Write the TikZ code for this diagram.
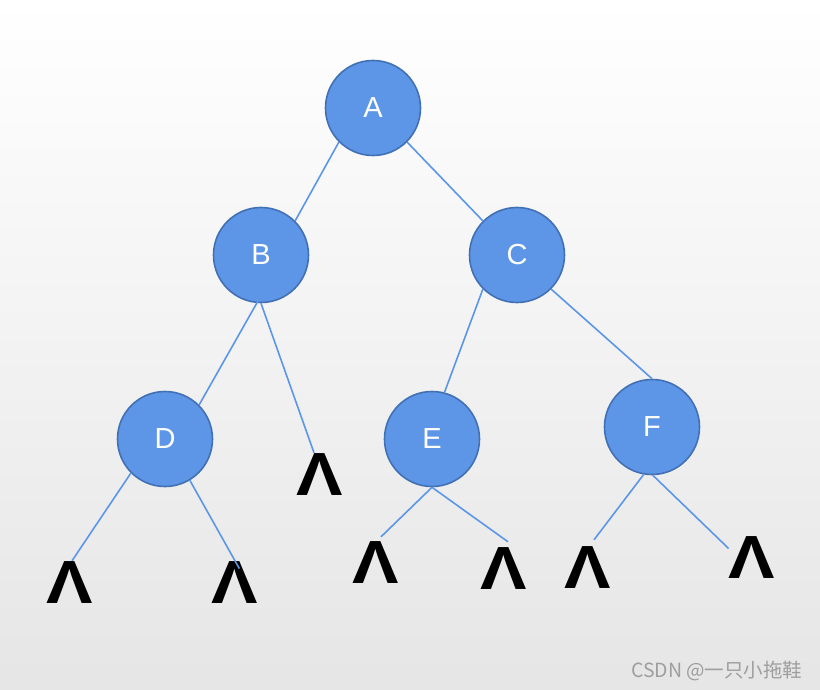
\documentclass[tikz,border=0pt]{standalone}
\usepackage{fontspec}
\usepackage{graphicx}
\setmainfont{Liberation Sans}
\newfontfamily\cjk{Noto Sans CJK SC}
\usetikzlibrary{positioning}

\definecolor{nodefill}{RGB}{93,150,230}
\definecolor{nodeline}{RGB}{66,112,180}
\definecolor{edgeline}{RGB}{92,150,232}

\newcommand{\nilsym}{\scalebox{1.2}[1.05]{Λ}}

\begin{document}
\begin{tikzpicture}[
  x=1pt,y=-1pt,
  treenode/.style={circle,draw=nodeline,line width=1.6pt,fill=nodefill,minimum size=95pt,inner sep=0pt,text=white,font=\fontsize{29}{29}\selectfont},
  nilnode/.style={inner sep=0pt,text height=42pt,text depth=0pt,font=\fontsize{58}{58}\selectfont\bfseries},
  edge/.style={edgeline,line width=1.6pt},
]

% === BACKGROUND ===
\useasboundingbox (0,0) rectangle (820,690);
\shade[top color=white,bottom color=black!10] (0,0) rectangle (820,690);

% === TREE NODES ===
\node[treenode] (A) at (373,108) {A};
\node[treenode] (B) at (261,255) {B};
\node[treenode] (C) at (517,255) {C};
\node[treenode] (D) at (165,439) {D};
\node[treenode] (E) at (432,439) {E};
\node[treenode] (F) at (652,427) {F};

% === EMPTY CHILDREN ===
\node[nilnode] (nilB)  at (320,474) {\nilsym};
\node[nilnode] (nilDL) at (70,582)  {\nilsym};
\node[nilnode] (nilDR) at (235,582) {\nilsym};
\node[nilnode] (nilEL) at (376,562) {\nilsym};
\node[nilnode] (nilER) at (504,568) {\nilsym};
\node[nilnode] (nilFL) at (588,567) {\nilsym};
\node[nilnode] (nilFR) at (752,557) {\nilsym};

% === EDGES ===
\draw[edge] (A.225) -- (B.45);
\draw[edge] (A.-45) -- (C.135);
\draw[edge,shorten <=-5pt] (B.265) -- (D.45);
\draw[edge] (B.south) -- ([xshift=-6pt]nilB.north);
\draw[edge] (C.225) -- (E.75);
\draw[edge] (C.-45) -- (F.north);
\draw[edge] (D.225) -- ([xshift=2pt]nilDL.north);
\draw[edge,shorten >=-9pt] (D.-59) -- (nilDR.north);
\draw[edge] (E.south) -- ([xshift=5pt,yshift=4pt]nilEL.north);
\draw[edge] (E.south) -- ([xshift=4pt,yshift=5pt]nilER.north);
\draw[edge] (F.-100) -- ([xshift=6pt,yshift=6pt]nilFL.north);
\draw[edge] (F.-89) -- (nilFR.160);

% === WATERMARK ===
\node[anchor=east,text=black!38,font=\cjk\fontsize{19.5}{19.5}\selectfont] (mark) at (806,671) {CSDN @一只小拖鞋};

\end{tikzpicture}
\end{document}
